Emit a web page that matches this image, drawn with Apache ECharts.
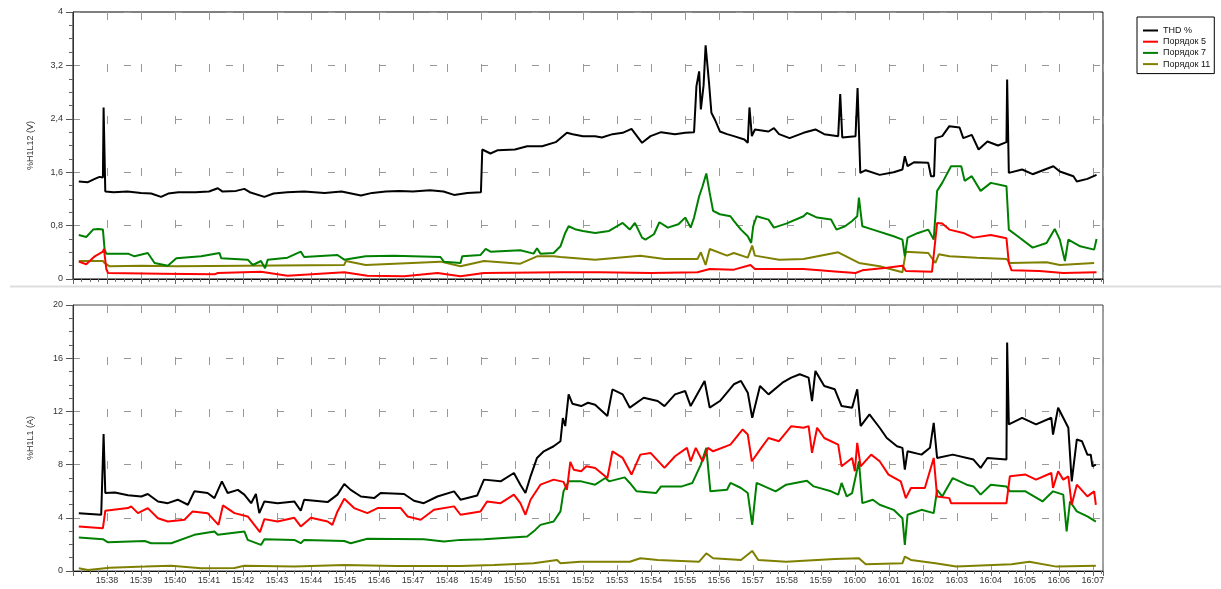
<!DOCTYPE html>
<html>
<head>
<meta charset="utf-8">
<script src="https://cdn.jsdelivr.net/npm/echarts@6/dist/echarts.min.js"></script>
<style>
html,body{margin:0;padding:0;background:#fff;}
#chart{width:1221px;height:589px;}
</style>
</head>
<body>
<div id="chart"></div>
<script>
// time axis: minutes after 15:37
const timeLabels = ['15:37','15:38','15:39','15:40','15:41','15:42','15:43','15:44','15:45','15:46','15:47','15:48','15:49','15:50','15:51','15:52','15:53','15:54','15:55','15:56','15:57','15:58','15:59','16:00','16:01','16:02','16:03','16:04','16:05','16:06','16:07'];
const seriesNames = ['THD %','Порядок 5','Порядок 7','Порядок 11'];
const seriesColors = ['#000000','#ff0000','#008000','#808000'];
const axisNames = ['%H1L12 (V)','%H1L1 (A)'];
const yTopTicks = [0, 0.8, 1.6, 2.4, 3.2, 4];
const yBottomTicks = [0, 4, 8, 12, 16, 20];

// ---- Top panel: %H1L12 (V) ----
const topTHD = [[0.17,1.46],[0.44,1.45],[0.64,1.5],[0.78,1.53],[0.88,1.52],[0.9,2.57],[0.93,2.57],[0.95,1.31],[1.2,1.3],[1.6,1.31],[2.0,1.29],[2.3,1.28],[2.59,1.23],[2.8,1.28],[3.1,1.3],[3.6,1.3],[4.0,1.31],[4.26,1.36],[4.4,1.31],[4.8,1.32],[5.04,1.35],[5.2,1.3],[5.63,1.23],[5.9,1.28],[6.3,1.3],[6.8,1.31],[7.4,1.29],[7.9,1.31],[8.47,1.25],[8.8,1.29],[9.2,1.31],[9.6,1.32],[10.0,1.31],[10.5,1.33],[10.9,1.31],[11.21,1.26],[11.6,1.29],[12.0,1.3],[12.04,1.94],[12.28,1.88],[12.5,1.93],[13.0,1.94],[13.36,1.99],[13.8,1.99],[14.2,2.05],[14.53,2.19],[14.7,2.17],[15.0,2.14],[15.36,2.14],[15.56,2.12],[15.87,2.17],[16.17,2.19],[16.43,2.25],[16.74,2.04],[16.99,2.14],[17.3,2.2],[17.71,2.17],[18.01,2.19],[18.27,2.2],[18.34,2.89],[18.42,3.11],[18.47,2.54],[18.55,2.9],[18.61,3.5],[18.65,3.5],[18.71,2.94],[18.78,2.49],[18.88,2.39],[19.03,2.21],[19.24,2.17],[19.44,2.14],[19.75,2.09],[19.85,2.04],[19.9,2.57],[19.93,2.57],[19.97,2.14],[20.06,2.24],[20.46,2.21],[20.62,2.26],[20.77,2.17],[21.08,2.11],[21.49,2.19],[21.84,2.24],[22.1,2.17],[22.51,2.14],[22.57,2.77],[22.61,2.77],[22.63,2.12],[23.02,2.14],[23.08,2.86],[23.12,2.86],[23.16,1.59],[23.32,1.63],[23.73,1.56],[24.14,1.6],[24.4,1.64],[24.47,1.84],[24.55,1.69],[24.75,1.75],[25.16,1.74],[25.24,1.54],[25.33,1.54],[25.37,2.11],[25.57,2.14],[25.78,2.29],[26.08,2.27],[26.19,2.11],[26.44,2.16],[26.64,1.94],[26.9,2.06],[27.21,2.0],[27.46,2.05],[27.48,2.99],[27.51,2.99],[27.53,1.59],[27.92,1.64],[28.23,1.57],[28.84,1.69],[29.03,1.61],[29.43,1.54],[29.53,1.46],[29.84,1.5],[30.11,1.56]];
const topH5 = [[0.17,0.26],[0.39,0.22],[0.64,0.34],[0.88,0.41],[0.91,0.45],[0.98,0.15],[1.03,0.09],[2.59,0.08],[4.16,0.07],[4.26,0.09],[5.53,0.11],[6.31,0.05],[7.98,0.1],[8.66,0.05],[9.74,0.04],[10.72,0.09],[11.4,0.04],[12.09,0.09],[14.34,0.1],[15.5,0.1],[17.0,0.09],[18.37,0.1],[18.73,0.15],[19.44,0.14],[19.93,0.21],[20.06,0.15],[21.49,0.15],[22.51,0.11],[23.02,0.09],[23.22,0.13],[23.94,0.17],[24.4,0.2],[24.5,0.12],[25.27,0.11],[25.42,0.84],[25.57,0.83],[25.78,0.74],[26.19,0.69],[26.49,0.62],[27.0,0.66],[27.46,0.61],[27.53,0.24],[27.61,0.13],[28.43,0.12],[29.13,0.09],[30.11,0.1]];
const topH7 = [[0.17,0.66],[0.39,0.63],[0.59,0.74],[0.74,0.75],[0.88,0.74],[0.93,0.44],[0.98,0.38],[1.62,0.38],[1.81,0.34],[2.2,0.39],[2.4,0.24],[2.79,0.2],[3.04,0.31],[3.77,0.34],[4.31,0.39],[4.36,0.31],[5.14,0.29],[5.29,0.21],[5.53,0.27],[5.65,0.16],[5.73,0.29],[6.31,0.32],[6.7,0.41],[6.8,0.33],[7.78,0.36],[7.98,0.29],[8.61,0.34],[9.44,0.35],[10.81,0.33],[10.91,0.26],[11.4,0.24],[11.45,0.34],[11.99,0.36],[12.14,0.45],[12.28,0.41],[13.16,0.43],[13.55,0.38],[13.65,0.46],[13.75,0.38],[14.14,0.39],[14.34,0.49],[14.48,0.69],[14.58,0.79],[14.8,0.74],[15.0,0.72],[15.36,0.69],[15.77,0.72],[16.17,0.84],[16.38,0.74],[16.53,0.84],[16.74,0.62],[16.84,0.59],[17.09,0.67],[17.25,0.85],[17.5,0.77],[17.81,0.82],[18.01,0.92],[18.17,0.77],[18.27,0.92],[18.42,1.24],[18.52,1.39],[18.63,1.58],[18.73,1.29],[18.83,1.02],[19.03,0.97],[19.34,0.94],[19.44,0.87],[19.65,0.74],[19.85,0.64],[19.95,0.54],[20.01,0.79],[20.11,0.94],[20.46,0.89],[20.62,0.77],[20.98,0.83],[21.49,0.94],[21.59,0.99],[21.89,0.92],[22.3,0.89],[22.46,0.74],[22.71,0.79],[22.92,0.87],[23.07,0.94],[23.12,1.22],[23.22,0.79],[23.53,0.74],[24.14,0.64],[24.4,0.59],[24.47,0.34],[24.55,0.62],[24.86,0.69],[25.16,0.74],[25.32,0.59],[25.42,1.32],[25.57,1.44],[25.83,1.69],[26.13,1.69],[26.23,1.47],[26.44,1.54],[26.7,1.32],[27.0,1.44],[27.46,1.39],[27.53,0.74],[27.82,0.63],[28.23,0.47],[28.64,0.54],[28.88,0.75],[29.03,0.59],[29.18,0.27],[29.28,0.59],[29.63,0.49],[30.04,0.44],[30.11,0.6]];
const topH11 = [[0.17,0.27],[0.88,0.27],[0.93,0.24],[1.08,0.19],[2.01,0.2],[3.04,0.19],[5.04,0.2],[7.98,0.21],[8.03,0.27],[8.61,0.21],[10.81,0.26],[11.4,0.19],[12.09,0.27],[13.16,0.23],[13.65,0.34],[14.14,0.34],[14.34,0.33],[15.36,0.29],[16.69,0.35],[17.4,0.3],[18.37,0.3],[18.47,0.4],[18.61,0.21],[18.73,0.45],[19.24,0.35],[19.44,0.39],[19.85,0.32],[19.98,0.5],[20.06,0.35],[20.77,0.29],[21.49,0.3],[22.51,0.4],[23.12,0.24],[23.73,0.19],[24.4,0.1],[24.5,0.41],[25.16,0.39],[25.37,0.24],[25.47,0.37],[25.78,0.34],[26.59,0.32],[27.46,0.3],[27.56,0.24],[28.64,0.25],[29.03,0.21],[30.04,0.24]];

// ---- Bottom panel: %H1L1 (A) ----
const botTHD = [[0.17,4.35],[0.83,4.23],[0.88,4.3],[0.9,10.3],[0.93,10.3],[0.95,5.86],[1.23,5.9],[1.62,5.7],[2.01,5.6],[2.2,5.79],[2.5,5.23],[2.79,5.1],[3.08,5.36],[3.38,4.98],[3.57,5.99],[3.96,5.86],[4.16,5.48],[4.38,6.74],[4.55,5.86],[4.85,6.1],[5.04,5.74],[5.24,5.1],[5.38,5.79],[5.48,4.35],[5.63,5.23],[6.02,5.1],[6.51,5.23],[6.7,4.53],[6.8,5.36],[7.49,5.18],[7.78,5.74],[7.98,6.54],[8.17,6.1],[8.47,5.6],[8.86,5.48],[9.05,5.86],[9.74,5.79],[10.03,5.28],[10.32,5.1],[10.72,5.6],[11.21,5.99],[11.4,5.36],[11.89,5.67],[12.09,6.87],[12.58,6.74],[12.97,7.37],[13.16,6.49],[13.31,5.86],[13.46,7.12],[13.65,8.5],[13.85,9.0],[14.14,9.38],[14.34,9.76],[14.41,11.5],[14.48,10.9],[14.58,13.28],[14.69,12.58],[14.95,12.4],[15.15,12.65],[15.36,12.5],[15.72,11.65],[15.87,13.66],[16.17,13.28],[16.38,12.28],[16.79,13.03],[17.2,12.78],[17.4,12.4],[17.71,13.28],[18.01,13.53],[18.17,12.4],[18.58,14.29],[18.73,12.28],[19.03,12.78],[19.44,14.04],[19.65,14.29],[19.85,13.41],[19.98,11.52],[20.21,13.91],[20.46,13.28],[20.87,14.16],[21.13,14.54],[21.38,14.79],[21.64,14.54],[21.74,12.78],[21.84,15.04],[22.1,13.91],[22.41,13.66],[22.61,12.4],[22.92,12.28],[23.07,13.66],[23.17,10.9],[23.43,11.77],[23.73,10.77],[23.94,10.0],[24.24,9.38],[24.4,9.26],[24.47,7.62],[24.55,9.0],[24.96,8.75],[25.21,9.26],[25.32,11.14],[25.42,8.5],[25.88,8.75],[26.49,8.38],[26.7,7.75],[26.9,8.5],[27.46,8.38],[27.48,17.18],[27.51,17.18],[27.53,11.02],[27.92,11.52],[28.33,11.02],[28.78,11.52],[28.83,10.26],[28.98,12.28],[29.13,11.52],[29.28,10.77],[29.38,6.74],[29.53,9.89],[29.68,9.76],[29.84,8.75],[29.94,8.75],[29.99,7.87],[30.09,8.0]];
const botH5 = [[0.17,3.35],[0.88,3.22],[0.92,3.3],[0.95,4.53],[1.62,4.73],[1.71,4.86],[1.91,4.35],[2.2,4.73],[2.5,3.97],[2.79,3.72],[3.28,3.85],[3.52,4.48],[3.96,4.35],[4.28,3.47],[4.41,4.93],[4.75,4.35],[5.14,4.1],[5.5,2.92],[5.63,3.9],[6.02,3.72],[6.51,4.0],[6.7,3.35],[7.0,4.0],[7.49,3.72],[7.63,3.47],[7.78,4.48],[7.98,5.43],[8.27,4.73],[8.66,4.35],[8.96,4.73],[9.64,4.73],[9.84,4.1],[10.23,3.85],[10.62,4.6],[11.21,4.86],[11.4,4.23],[11.99,4.48],[12.18,5.23],[12.58,5.1],[12.97,5.74],[13.16,5.1],[13.31,4.23],[13.46,5.36],[13.75,6.49],[14.14,6.87],[14.43,6.7],[14.53,6.11],[14.63,8.2],[14.73,7.62],[14.95,7.5],[15.1,7.87],[15.36,7.75],[15.72,6.99],[15.87,9.0],[16.17,8.5],[16.43,7.25],[16.69,8.75],[16.99,8.88],[17.4,7.75],[17.71,8.63],[18.06,9.26],[18.17,8.25],[18.32,9.26],[18.52,8.25],[18.68,9.26],[18.83,9.0],[19.34,9.5],[19.7,10.64],[19.85,10.26],[19.97,8.25],[20.21,9.13],[20.46,10.0],[20.77,9.76],[21.13,10.89],[21.49,10.77],[21.64,10.89],[21.74,8.88],[21.89,10.77],[22.1,10.0],[22.51,9.5],[22.61,7.87],[22.92,8.5],[23.0,7.5],[23.07,9.64],[23.17,7.87],[23.48,8.75],[23.73,8.25],[23.99,7.25],[24.35,6.74],[24.5,5.48],[24.65,6.24],[25.06,6.24],[25.32,8.5],[25.42,5.61],[25.78,5.48],[25.83,5.1],[26.59,5.1],[27.46,5.1],[27.56,7.12],[28.02,7.25],[28.33,6.87],[28.78,7.37],[28.83,6.24],[28.98,7.5],[29.13,6.87],[29.28,7.12],[29.38,4.98],[29.53,6.49],[29.84,5.61],[30.04,5.99],[30.09,4.98]];
const botH7 = [[0.17,2.52],[0.88,2.39],[1.03,2.16],[2.11,2.26],[2.3,2.09],[2.89,2.09],[3.57,2.72],[4.16,2.97],[4.26,2.72],[5.04,2.97],[5.14,2.34],[5.53,1.96],[5.63,2.39],[6.51,2.34],[6.7,2.09],[6.8,2.34],[7.98,2.26],[8.17,2.09],[8.66,2.42],[10.32,2.39],[10.91,2.21],[11.4,2.34],[12.09,2.39],[13.36,2.59],[13.6,3.09],[13.75,3.47],[14.14,3.72],[14.34,4.48],[14.43,5.99],[14.58,6.74],[14.95,6.74],[15.36,6.49],[15.66,6.99],[15.77,6.74],[16.23,7.04],[16.38,6.62],[16.58,5.99],[17.15,5.86],[17.3,6.36],[17.91,6.36],[18.22,6.62],[18.47,8.0],[18.63,9.26],[18.75,5.99],[19.24,6.11],[19.34,6.62],[19.65,6.24],[19.85,5.86],[19.98,3.47],[20.11,6.62],[20.67,5.99],[20.98,6.49],[21.59,6.79],[21.79,6.36],[22.3,5.99],[22.51,5.74],[22.61,6.62],[22.76,5.61],[22.92,5.86],[23.12,8.25],[23.22,5.1],[23.53,5.36],[23.73,4.98],[24.14,4.6],[24.4,3.97],[24.47,1.96],[24.55,4.23],[24.96,4.6],[25.32,4.35],[25.42,6.11],[25.57,5.61],[25.88,6.99],[26.29,6.49],[26.49,6.36],[26.7,5.74],[27.0,6.49],[27.46,6.36],[27.56,5.99],[28.02,5.99],[28.52,5.23],[28.83,5.99],[29.13,5.74],[29.23,2.97],[29.33,5.23],[29.53,4.48],[29.84,4.1],[30.09,3.72]];
const botH11 = [[0.17,0.2],[0.44,0.08],[1.08,0.25],[2.11,0.33],[2.89,0.4],[3.77,0.2],[4.75,0.22],[5.04,0.4],[6.51,0.33],[7.98,0.45],[9.5,0.38],[11.4,0.38],[12.38,0.45],[13.55,0.58],[14.24,0.83],[14.34,0.58],[14.92,0.7],[16.38,0.7],[16.69,0.96],[17.2,0.83],[18.42,0.7],[18.63,1.33],[18.83,0.96],[19.65,0.83],[19.98,1.51],[20.16,0.83],[20.98,0.7],[22.41,0.9],[23.12,0.96],[23.32,0.5],[24.4,0.58],[24.47,1.08],[24.65,0.83],[25.37,0.58],[25.98,0.33],[27.61,0.5],[28.13,0.7],[28.93,0.33],[30.09,0.4]];

const FONT = "'Liberation Sans', Arial, sans-serif";
const topData = [topTHD, topH5, topH7, topH11];
const botData = [botTHD, botH5, botH7, botH11];

function xLabel(v) {
  if (Math.abs(v - Math.round(v)) > 1e-6 || v < 1) return '';
  return timeLabels[Math.round(v)] || '';
}
function yLabel(v) { return String(Math.round(v * 10) / 10).replace('.', ','); }

function makeX(idx) {
  return {
    type: 'value', gridIndex: idx, min: 0, max: 30.3, interval: 1,
    axisLine: { show: true, onZero: false, lineStyle: { color: '#111', width: 1 } },
    axisTick: { show: true, length: 5, lineStyle: { color: '#666' } },
    minorTick: { show: true, splitNumber: 4, length: 3, lineStyle: { color: '#777' } },
    axisLabel: { show: idx === 1, formatter: xLabel, fontSize: 9, color: '#333', margin: 5, fontFamily: FONT, showMaxLabel: false, showMinLabel: false },
    splitLine: { show: true, lineStyle: { color: '#999', width: 1, type: [8, 44] } }
  };
}
function makeY(idx, ticks) {
  return {
    type: 'value', gridIndex: idx, min: ticks[0], max: ticks[ticks.length - 1], interval: ticks[1] - ticks[0],
    name: axisNames[idx], nameLocation: 'middle', nameGap: 38,
    nameTextStyle: { fontSize: 9, color: '#333', fontFamily: FONT },
    axisLine: { show: true, onZero: false, lineStyle: { color: '#333', width: 1 } },
    axisTick: { show: true, length: 7, lineStyle: { color: '#555' } },
    minorTick: { show: true, splitNumber: 4, length: 4, lineStyle: { color: '#666' } },
    axisLabel: { formatter: yLabel, fontSize: 9, color: '#333', margin: 10, fontFamily: FONT },
    splitLine: { show: true, lineStyle: { color: '#999', width: 1, type: [7, 44] } }
  };
}

const series = [];
const drawOrder = [3, 2, 1, 0];
[topData, botData].forEach((set, gi) => {
  drawOrder.forEach(k => {
    series.push({
      name: seriesNames[k], type: 'line', xAxisIndex: gi, yAxisIndex: gi,
      data: set[k], symbol: 'none', showSymbol: false,
      lineStyle: { color: seriesColors[k], width: 2 }, itemStyle: { color: seriesColors[k] },
      z: 3 + (3 - k)
    });
  });
});

const chart = echarts.init(document.getElementById('chart'), null, { renderer: 'canvas' });
chart.setOption({
  animation: false,
  backgroundColor: '#fff',
  textStyle: { fontFamily: FONT },
  grid: [
    { left: 73, top: 12, width: 1030, height: 267, show: true, borderColor: '#000', borderWidth: 1, backgroundColor: 'transparent' },
    { left: 73, top: 305, width: 1030, height: 266, show: true, borderColor: '#444', borderWidth: 1, backgroundColor: 'transparent' }
  ],
  xAxis: [makeX(0), makeX(1)],
  yAxis: [makeY(0, yTopTicks), makeY(1, yBottomTicks)],
  legend: {
    data: seriesNames, orient: 'vertical', left: 1137, top: 17,
    icon: 'rect', padding: [8, 4, 4, 6], itemWidth: 15, itemHeight: 2, itemGap: 0.2,
    borderColor: '#000', borderWidth: 1, backgroundColor: '#fff',
    textStyle: { fontSize: 9, color: '#111', fontFamily: FONT, lineHeight: 11 }
  },
  graphic: [
    { type: 'line', shape: { x1: 10, y1: 286.5, x2: 1221, y2: 286.5 }, style: { stroke: '#dddddd', lineWidth: 2 }, silent: true }
  ],
  series: series
});
</script>
</body>
</html>
